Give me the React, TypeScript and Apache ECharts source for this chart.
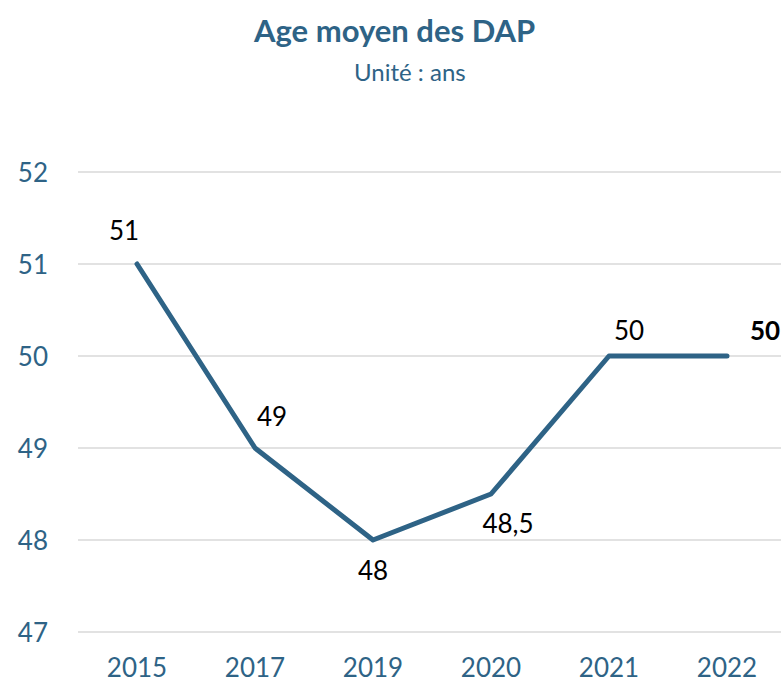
import React, { useEffect, useRef } from "react";
import * as echarts from "echarts";

const years = ["2015", "2017", "2019", "2020", "2021", "2022"];
const ages = [51, 49, 48, 48.5, 50, 50];
const labelOffsets = [[-13, -34], [17, -32], [0, 30], [17, 29], [20, -26], [38, -26]];
const yTicks = [47, 48, 49, 50, 51, 52];

const BLUE = "#2E6386";
const FONT = "Lato, 'Open Sans', sans-serif";

export default function App() {
  const ref = useRef<HTMLDivElement>(null);
  useEffect(() => {
    if (!ref.current) return;
    const chart = echarts.init(ref.current, null, { renderer: "svg" });
    chart.setOption({
      animation: false,
      textStyle: { fontFamily: FONT },
      title: [
        {
          text: "Age moyen des DAP",
          left: 249,
          top: 9,
          textStyle: { color: BLUE, fontSize: 31, fontWeight: "bold", fontFamily: FONT },
        },
        {
          text: "Unité : ans",
          left: 349,
          top: 54,
          textStyle: { color: BLUE, fontSize: 24, fontWeight: "normal", fontFamily: FONT },
        },
      ],
      grid: {
        left: 78,
        width: 708,
        top: 172,
        bottom: 52,
        containLabel: false,
        outerBoundsMode: "none",
      },
      xAxis: {
        type: "category",
        data: years,
        boundaryGap: true,
        axisLine: { show: false },
        axisTick: { show: false },
        axisLabel: { color: BLUE, fontSize: 26, margin: 22, fontFamily: FONT },
      },
      yAxis: {
        type: "value",
        min: yTicks[0],
        max: yTicks[yTicks.length - 1],
        interval: 1,
        axisLine: { show: false },
        axisTick: { show: false },
        axisLabel: { color: BLUE, fontSize: 26, margin: 30, fontFamily: FONT },
        splitLine: { lineStyle: { color: "#D9D9D9", width: 1.5 } },
      },
      series: [
        {
          type: "line",
          data: ages.map((v, i) => ({
            value: v,
            label: {
              show: true,
              position: "inside",
              offset: labelOffsets[i],
              fontWeight: i === ages.length - 1 ? "bold" : "normal",
            },
          })),
          lineStyle: { color: BLUE, width: 5, cap: "round", join: "round" },
          itemStyle: { color: "rgba(0,0,0,0)", borderWidth: 0 },
          symbol: "circle",
          symbolSize: 1,
          showSymbol: true,
          label: {
            show: true,
            color: "#000",
            fontSize: 26,
            fontFamily: FONT,
            formatter: (p: any) => String(p.value).replace(".", ","),
          },
        },
      ],
    });
    return () => chart.dispose();
  }, []);
  return (
    <div
      ref={ref}
      style={{ position: "absolute", left: 0, top: 0, width: 781, height: 684 }}
    />
  );
}
